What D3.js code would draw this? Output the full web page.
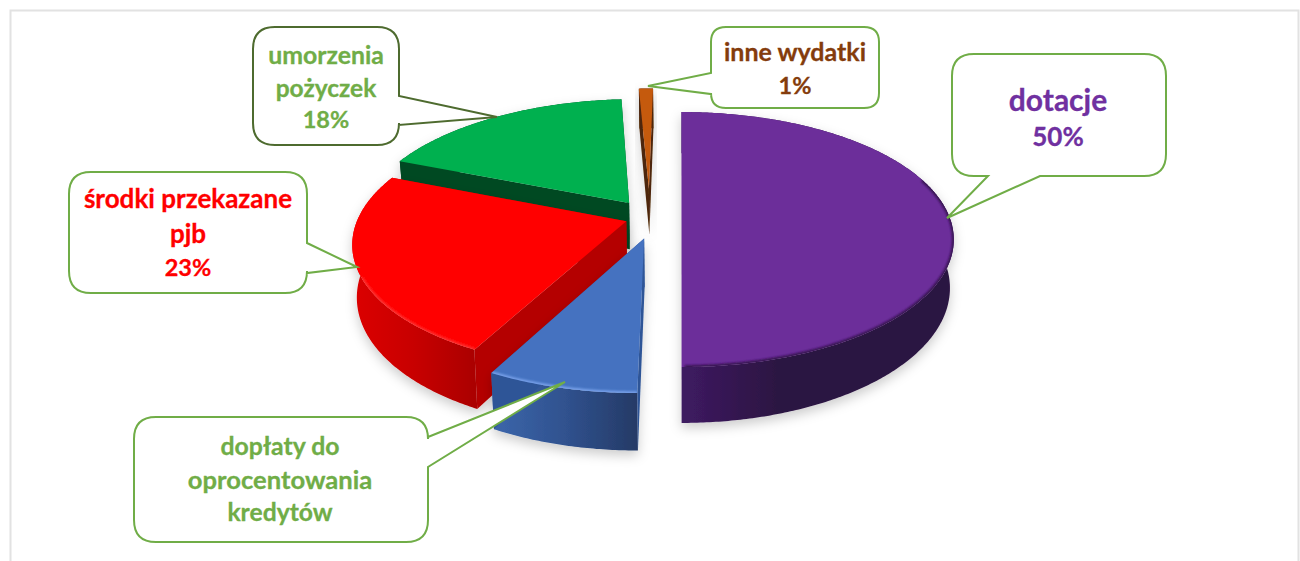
<!DOCTYPE html>
<html><head><meta charset="utf-8">
<script src="https://cdn.jsdelivr.net/npm/d3@7/dist/d3.min.js"></script>
<style>html,body{margin:0;padding:0;background:#fff;overflow:hidden}svg{display:block}text{font-family:Lato,"Open Sans",sans-serif;font-weight:700;text-anchor:middle;stroke-width:.3px}</style>
</head><body><svg id="c" width="1300" height="561"></svg>
<script>
// ---- data (share of spending, %) ----
const categories = ["dotacje","dopłaty do oprocentowania kredytów","środki przekazane pjb","umorzenia pożyczek","inne wydatki"];
const values = [50, 7.6, 23.4, 18, 1];
const topColors = ["#6C2E9A","#4472C0","#FF0000","#00B050","#C55A11"];
const paintOrder = [3, 4, 2, 0, 1];
// ---- how far each slice is pulled out of the pie, in units of its radius ----
const explodeX = [0.002, -0.134, -0.203, -0.197, -0.124];
const explodeY = [0, 0.146, 0.01, -0.14, -0.26];
const depthScale = [1, 1, 1.08, 1, 1];
// wall gradients [left, mid, right], flat cut-face colours, rim colours
const wallStops = [["#3e1b62","#2c1342","#2c1342"],["#3c66ab","#30528f","#253a66"],["#dc0000","#c80000","#ab0000"],["#004a23","#004a23","#004a23"],["#4d2608","#4d2608","#4d2608"]];
const cutColors = ["#2c1342","#2f5597","#b40000","#004a23","#4d2608"];
const rimColors = ["#2c1342","#7ea6ee","#ff4a4a",null,null];
const rimOpacity = [0.9,0.9,0.65,0,0];
const rimSpan = [[70,180],[180,360],[0,245],null,null]; // degrees, clockwise from the back
// ---- callouts ----
const labelLines = [["dotacje","50%"],["dopłaty do","oprocentowania","kredytów"],["środki przekazane","pjb","23%"],["umorzenia","pożyczek","18%"],["inne wydatki","1%"]];
const labelColors = ["#7030A0","#70AD47","#FF0000","#70AD47","#843C0C"];
const boxes = [
 {x:952,y:54,w:214,h:122,r:22,side:"bottom",a:988,b:1040,tx:947,ty:218,stroke:"#70AD47",cx:1058,base:[111,146],size:[30,26]},
 {x:134,y:417,w:294,h:125,r:22,side:"right",a:437,b:467,tx:565,ty:382,stroke:"#70AD47",cx:280,base:[455,489,521],size:[24.8,25.6,24.7]},
 {x:69,y:172,w:238,h:121,r:22,side:"right",a:243,b:273,tx:357,ty:267,stroke:"#70AD47",cx:188,base:[208,243,276],size:[26,26,23.5]},
 {x:253,y:27,w:146,h:118,r:22,side:"right",a:96,b:125,tx:497,ty:117,stroke:"#4E6B2F",cx:326,base:[64,97,128],size:[24.8,24.5,23.5]},
 {x:711,y:27,w:168,h:81,r:15,side:"left",a:73,b:94,tx:648,ty:86,stroke:"#70AD47",cx:795,base:[61,94],size:[25,23.5]}
];
// ---- projection: tilted disc seen in perspective ----
const persp = 0.153, depth = 47.4, converge = 0.014;
const xS = d3.scaleLinear().domain([0,1]).range([681,950]);
const yS = d3.scaleLinear().domain([0,1]).range([220,344.5]);
function proj(X,Y,z){
  const s = 1/(1-persp*Y);
  let x = xS(X*s), y = yS(Y*s);
  if(z){ y += z*depth*s; x += (xS(0)-x)*converge; }
  return [x,y];
}
const line = d3.line();
const pie = d3.pie().sort(null).value(d=>d).startAngle(0).endAngle(2*Math.PI);
const arcs = pie(values);

const svg = d3.select("#c");
const defs = svg.append("defs");
const sh = defs.append("filter").attr("id","sh").attr("x","-20%").attr("y","-20%").attr("width","140%").attr("height","150%");
sh.append("feDropShadow").attr("dx",0).attr("dy",5).attr("stdDeviation",6).attr("flood-color","#000").attr("flood-opacity",0.2);
defs.append("filter").attr("id","bl").attr("x","-5%").attr("y","-5%").attr("width","110%").attr("height","110%").append("feGaussianBlur").attr("stdDeviation",1.3);

// panel frame
svg.append("path").attr("d","M10.5,561V10.5H1298.5V561").attr("fill","none").attr("stroke","#e2e2e2").attr("stroke-width",2);

const pieG = svg.append("g");
paintOrder.forEach(i=>{
  const a = arcs[i], ox = explodeX[i], oy = explodeY[i], dz = depthScale[i];
  const P = (t,z)=>proj(ox+Math.sin(t), oy-Math.cos(t), z);
  const A = z=>proj(ox,oy,z);
  const n = Math.max(4,Math.ceil((a.endAngle-a.startAngle)/0.01));
  const ts = d3.range(n+1).map(k=>a.startAngle+(a.endAngle-a.startAngle)*k/n);
  const topArc = ts.map(t=>P(t,0)), botArc = ts.map(t=>P(t,dz));
  const g = pieG.append("g").attr("filter","url(#sh)");
  // outer wall gradient
  const xs = topArc.map(p=>p[0]);
  const gid = "w"+i;
  const gr = defs.append("linearGradient").attr("id",gid).attr("gradientUnits","userSpaceOnUse")
    .attr("x1",d3.min(xs)).attr("x2",d3.max(xs)).attr("y1",0).attr("y2",0);
  const midOff = i===0 ? 0.35 : 0.5;
  wallStops[i].forEach((c,k)=>gr.append("stop").attr("offset",[0,midOff,1][k]).attr("stop-color",c));
  g.append("path").attr("d",line(topArc.concat(botArc.slice().reverse()))+"Z").attr("fill",`url(#${gid})`);
  // cut faces
  [a.startAngle,a.endAngle].forEach(t=>{
    g.append("path").attr("d",line([A(0),P(t,0),P(t,dz),A(dz)])+"Z").attr("fill",cutColors[i]);
  });
  // top face
  const topPath = line([A(0)].concat(topArc))+"Z";
  g.append("path").attr("d",topPath).attr("fill",topColors[i]);
  if(rimColors[i]){
    const cid="cl"+i;
    defs.append("clipPath").attr("id",cid).append("path").attr("d",topPath);
    const [r0,r1] = rimSpan[i];
    const rimArc = ts.filter(t=>{const d=t*180/Math.PI; return d>=r0&&d<=r1;}).map(t=>P(t,0));
    g.append("g").attr("clip-path",`url(#${cid})`).append("path").attr("d",line(rimArc))
      .attr("fill","none").attr("stroke",rimColors[i]).attr("stroke-opacity",rimOpacity[i]).attr("stroke-width",3.5).attr("filter","url(#bl)");
  }
});

// callouts
function calloutPath(b){
  const L=b.x,R=b.x+b.w,T=b.y,B=b.y+b.h,r=b.r;
  let p=`M${L+r},${T}H${R-r}Q${R},${T} ${R},${T+r}`;
  if(b.side==="right") p+=`V${b.a}L${b.tx},${b.ty}L${R},${b.b}`;
  p+=`V${B-r}Q${R},${B} ${R-r},${B}`;
  if(b.side==="bottom") p+=`H${b.b}L${b.tx},${b.ty}L${b.a},${B}`;
  p+=`H${L+r}Q${L},${B} ${L},${B-r}`;
  if(b.side==="left") p+=`V${b.b}L${b.tx},${b.ty}L${L},${b.a}`;
  p+=`V${T+r}Q${L},${T} ${L+r},${T}Z`;
  return p;
}
const labelG = svg.append("g");
boxes.forEach((b,i)=>{
  labelG.append("path").attr("d",calloutPath(b)).attr("fill","#fff").attr("stroke",b.stroke).attr("stroke-width",2);
  labelLines[i].forEach((t,k)=>{
    labelG.append("text").attr("x",b.cx).attr("y",b.base[k]).attr("font-size",b.size[k]).attr("fill",labelColors[i]).attr("stroke",labelColors[i]).text(t);
  });
});
</script></body></html>
